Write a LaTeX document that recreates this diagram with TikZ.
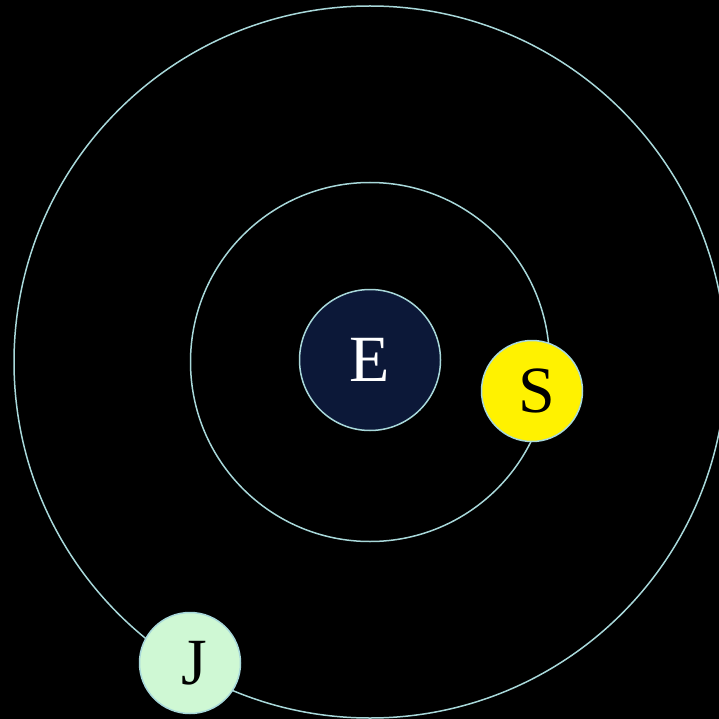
\documentclass[tikz,border=0pt]{standalone}
\usepackage{fontspec}
\setmainfont{Liberation Serif}
\definecolor{orbitline}{HTML}{A8D8DA}
\definecolor{earthfill}{HTML}{0C1838}
\definecolor{jupfill}{HTML}{CFF8D4}
\tikzset{
  body/.style={circle, draw=orbitline, line width=1.5pt, inner sep=0pt, font=\fontsize{66}{66}\selectfont},
  orbit/.style={draw=orbitline, line width=1.5pt}
}
\begin{document}
\begin{tikzpicture}[x=1pt,y=-1pt]
\fill[black] (0,0) rectangle (719,719);
\useasboundingbox (0,0) rectangle (719,719);
\draw[orbit] (370,362) circle[radius=179.5];
\draw[orbit] (370,362) circle[radius=356];
\node[body, fill=earthfill, text=white, minimum size=141pt] (e) at (370,360) {E};
\node[body, fill=yellow, text=black, minimum size=101pt] (s) at (532,391) {\raisebox{-3pt}{\hspace{10pt}S}};
\node[body, fill=jupfill, text=black, minimum size=101pt] (j) at (190,663) {\hspace{8pt}J};
\end{tikzpicture}
\end{document}
